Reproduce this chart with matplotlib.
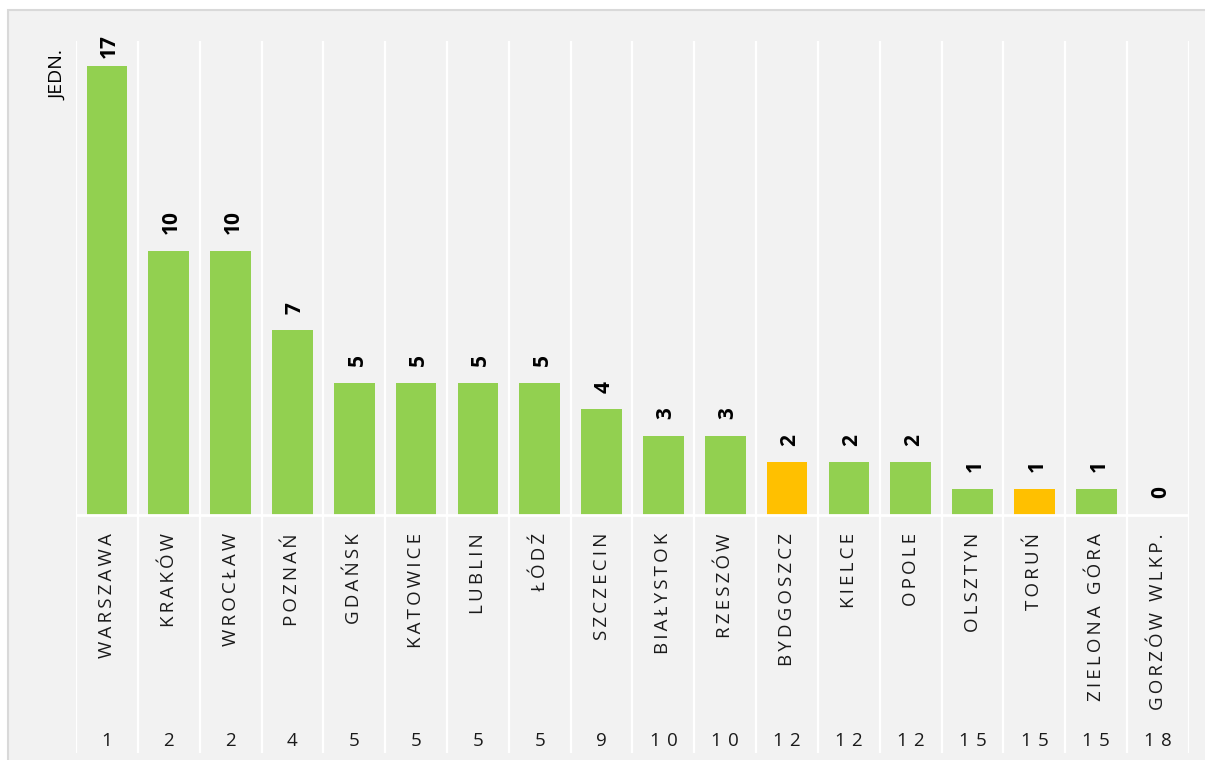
import matplotlib.pyplot as plt
from matplotlib.patches import Rectangle

cities = ["WARSZAWA", "KRAKÓW", "WROCŁAW", "POZNAŃ", "GDAŃSK", "KATOWICE",
          "LUBLIN", "ŁÓDŹ", "SZCZECIN", "BIAŁYSTOK", "RZESZÓW", "BYDGOSZCZ",
          "KIELCE", "OPOLE", "OLSZTYN", "TORUŃ", "ZIELONA GÓRA", "GORZÓW WLKP."]
units = [17, 10, 10, 7, 5, 5, 5, 5, 4, 3, 3, 2, 2, 2, 1, 1, 1, 0]
ranks = [1, 2, 2, 4, 5, 5, 5, 5, 9, 10, 10, 12, 12, 12, 15, 15, 15, 18]
highlight = ["BYDGOSZCZ", "TORUŃ"]

GREEN = "#92d050"
ORANGE = "#ffc000"
BG = "#f2f2f2"
FONT = ["Open Sans", "DejaVu Sans"]

W, H = 1205, 760
fig = plt.figure(figsize=(W / 100, H / 100), dpi=100)
fig.patch.set_facecolor("white")

# grey panel, border only visible on the left and top
fig.patches.append(Rectangle((8 / W, -0.05), 1.1, 1.05 - 10 / H, transform=fig.transFigure,
                             facecolor=BG, edgecolor="#d9d9d9", linewidth=1.5, zorder=-10))


def spaced(s, sep="\u2009"):
    return sep.join(s)


# pixel geometry of the plotting area
px_left, px_right = 76, 1189
px_top, px_bottom = 41, 753
px_base = 515
px_unit = 26.4

ax = fig.add_axes([px_left / W, 1 - px_bottom / H, (px_right - px_left) / W, (px_bottom - px_top) / H])
ax.set_facecolor("none")
ax.set_xlim(-0.5, len(cities) - 0.5)
ymax = (px_base - px_top) / px_unit
ax.set_ylim(-(px_bottom - px_base) / px_unit, ymax)
ax.axis("off")

x = list(range(len(cities)))
colors = [ORANGE if c in highlight else GREEN for c in cities]
ax.bar(x, units, width=0.66, color=colors, zorder=2)

# column separators and baseline
for k in range(len(cities) + 1):
    ax.axvline(k - 0.5, color="white", linewidth=1.6, zorder=1)
ax.axhline(0, color="white", linewidth=2, zorder=3)

label_top = -(533 - px_base) / px_unit
rank_y = -(741 - px_base) / px_unit
for i, (c, v, r) in enumerate(zip(cities, units, ranks)):
    # pull the label closer to the bar when it would leave the plot area
    pad = 12 if v + 1.6 < ymax else 6
    ax.annotate(str(v), (i, v), xytext=(2, pad), textcoords="offset points",
                rotation=90, ha="center", va="bottom", fontsize=15,
                fontweight="bold", family=FONT, color="black")
    ax.text(i, label_top, spaced(c), rotation=90, ha="center", va="top",
            fontsize=13.5, family=FONT, color="#1a1a1a")
    ax.text(i, rank_y, spaced(str(r), "\u2009\u2009"), ha="center", va="center",
            fontsize=13.5, family=FONT, color="#1a1a1a")

fig.text(58 / W, 1 - 75 / H, "JEDN.", rotation=90, ha="center", va="center",
         fontsize=14, family=FONT, color="black")

fig.savefig("out.png", dpi=100, facecolor=fig.get_facecolor())
